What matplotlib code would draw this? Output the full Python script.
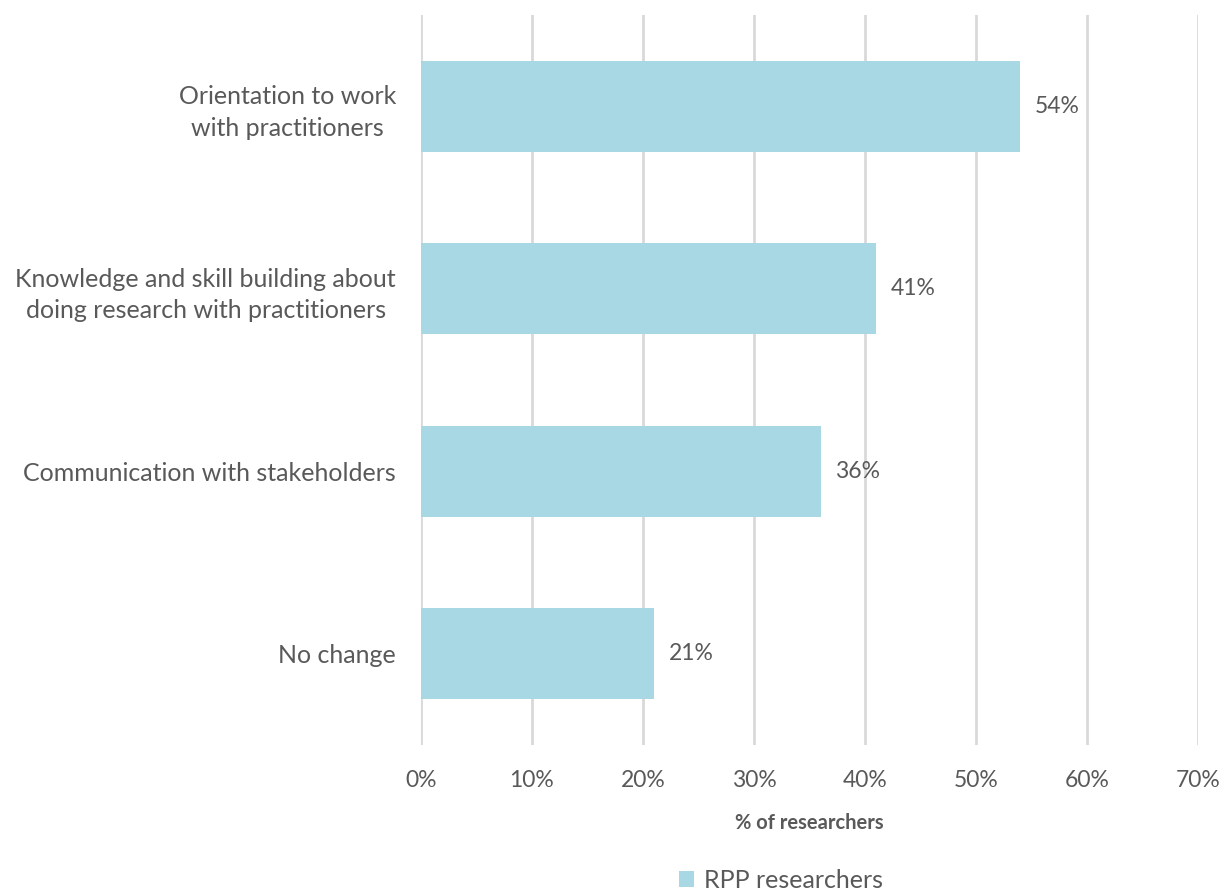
import matplotlib
matplotlib.use('Agg')
import matplotlib.pyplot as plt
from matplotlib.ticker import PercentFormatter
from matplotlib.patches import Patch

categories = ["Orientation to work\nwith practitioners",
              "Knowledge and skill building about\ndoing research with practitioners",
              "Communication with stakeholders",
              "No change"]
values = [54, 41, 36, 21]
series_name = "RPP researchers"
xticks = [0, 10, 20, 30, 40, 50, 60, 70]

BAR_COLOR = '#A8D8E4'
TEXT_COLOR = '#595959'
GRID_COLOR = '#D9D9D9'

plt.rcParams['font.family'] = ['Lato', 'DejaVu Sans']

fig = plt.figure(figsize=(12.2, 8.9), dpi=100)
ax = fig.add_axes([0.345, 0.163, 0.637, 0.820])

ypos = list(range(len(categories)))
ax.barh(ypos, values, height=0.5, color=BAR_COLOR, zorder=3)
ax.set_ylim(len(categories) - 0.5, -0.5)
ax.set_xlim(0, 70)
ax.set_xticks(xticks)
ax.xaxis.set_major_formatter(PercentFormatter(decimals=0))
ax.set_yticks(ypos)
ax.set_yticklabels(categories, ha='right', multialignment='center',
                   linespacing=1.45)

ax.grid(axis='x', color=GRID_COLOR, linewidth=2, zorder=0)
for s in ax.spines.values():
    s.set_visible(False)
ax.tick_params(axis='both', length=0, colors=TEXT_COLOR, labelsize=16.5)
ax.tick_params(axis='y', pad=18, labelsize=18)
ax.tick_params(axis='x', pad=18)

for y, v in zip(ypos, values):
    ax.text(v + 1.3, y, f"{v}%", va='center', ha='left',
            fontsize=16.5, color=TEXT_COLOR)

ax.set_xlabel('% of researchers', fontsize=14.5, fontweight='bold',
              color=TEXT_COLOR, labelpad=16)

handle = Patch(facecolor=BAR_COLOR, edgecolor='none')
fig.legend([handle], [series_name], loc='center', bbox_to_anchor=(0.64, 0.011),
           frameon=False, fontsize=18, handlelength=0.6, handleheight=0.6,
           handletextpad=0.4, labelcolor=TEXT_COLOR)

fig.savefig('out.png', dpi=100)
